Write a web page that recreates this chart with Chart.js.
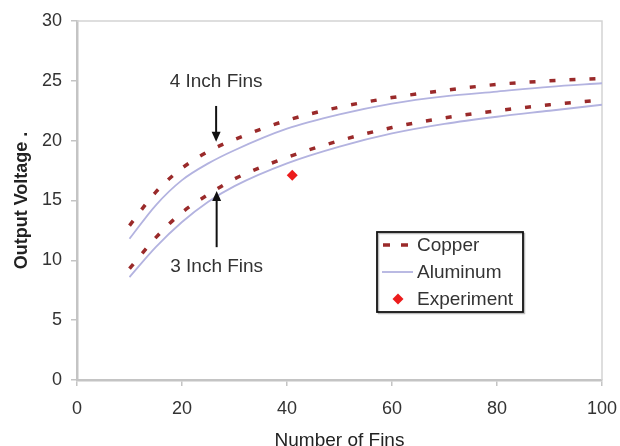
<!DOCTYPE html>
<html>
<head>
<meta charset="utf-8">
<script src="https://cdn.jsdelivr.net/npm/chart.js@4.4.0/dist/chart.umd.min.js"></script>
<style>
  html, body { margin: 0; padding: 0; background: #fff; }
  #wrap { width: 620px; height: 446px; }
</style>
</head>
<body>
<div id="wrap"><canvas id="finChart" width="620" height="446"></canvas></div>
<script>
const fins = [10, 15, 20, 25, 30, 40, 50, 60, 70, 80, 90, 100];
const copper4 = [12.9, 15.7, 17.7, 19.1, 20.1, 21.7, 22.8, 23.6, 24.2, 24.7, 25.0, 25.2];
const aluminum4 = [11.8, 14.6, 16.7, 18.1, 19.2, 21.0, 22.2, 23.1, 23.7, 24.1, 24.5, 24.8];
const copper3 = [9.3, 11.9, 14.0, 15.5, 16.8, 18.6, 20.0, 21.1, 21.9, 22.5, 23.0, 23.4];
const aluminum3 = [8.6, 11.1, 13.2, 14.9, 16.2, 18.1, 19.5, 20.6, 21.4, 22.0, 22.5, 23.0];
const experimentFins = [41];
const experimentVolts = [17.1];
const xTicks = [0, 20, 40, 60, 80, 100];
const yTicks = [0, 5, 10, 15, 20, 25, 30];

const FONT = "'Liberation Sans', Arial, sans-serif";
const COPPER = "#9a2a2a";
const ALU = "#b3b3e0";
const EXP = "#ec1c1c";

const pts = (xs, ys) => xs.map((x, i) => ({ x, y: ys[i] }));

// light frame on top and right of the plot
const frame = {
  id: "frame",
  beforeDatasetsDraw(chart) {
    const { ctx, chartArea: a } = chart;
    ctx.save();
    ctx.strokeStyle = "#d4d4d4";
    ctx.lineWidth = 1.5;
    ctx.beginPath();
    ctx.moveTo(a.left, a.top);
    ctx.lineTo(a.right, a.top);
    ctx.lineTo(a.right, a.bottom);
    ctx.stroke();
    ctx.restore();
  }
};

// "4 Inch Fins" / "3 Inch Fins" labels with arrows
const notes = [
  { text: "4 Inch Fins", x: 26.5, textY: 24.9, from: 22.9, to: 19.9 },
  { text: "3 Inch Fins", x: 26.6, textY: 9.5, from: 11.1, to: 15.8 }
];
const arrows = {
  id: "arrows",
  afterDatasetsDraw(chart) {
    const { ctx, scales: { x, y } } = chart;
    ctx.save();
    ctx.font = `19px ${FONT}`;
    ctx.textAlign = "center";
    ctx.textBaseline = "middle";
    for (const n of notes) {
      const px = x.getPixelForValue(n.x);
      ctx.fillStyle = "#333";
      ctx.fillText(n.text, px, y.getPixelForValue(n.textY));
      const y0 = y.getPixelForValue(n.from);
      const y1 = y.getPixelForValue(n.to);
      const dir = Math.sign(y1 - y0);
      ctx.strokeStyle = "#111";
      ctx.fillStyle = "#111";
      ctx.lineWidth = 2;
      ctx.beginPath();
      ctx.moveTo(px, y0);
      ctx.lineTo(px, y1 - dir * 8);
      ctx.stroke();
      ctx.beginPath();
      ctx.moveTo(px, y1);
      ctx.lineTo(px - 4.5, y1 - dir * 10);
      ctx.lineTo(px + 4.5, y1 - dir * 10);
      ctx.closePath();
      ctx.fill();
    }
    ctx.restore();
  }
};

// boxed legend inside the plot
const boxLegend = {
  id: "boxLegend",
  afterDraw(chart) {
    const { ctx } = chart;
    const left = 377, top = 232, w = 146, h = 80;
    ctx.save();
    ctx.fillStyle = "#fff";
    ctx.fillRect(left, top, w, h);
    ctx.strokeStyle = "#bbb";
    ctx.lineWidth = 1.5;
    ctx.strokeRect(left + 1.5, top + 1.5, w, h);
    ctx.strokeStyle = "#111";
    ctx.lineWidth = 1.8;
    ctx.strokeRect(left, top, w, h);

    const rows = [
      { label: "Copper", y: 245, kind: "dash" },
      { label: "Aluminum", y: 272, kind: "line" },
      { label: "Experiment", y: 299, kind: "point" }
    ];
    for (const r of rows) {
      if (r.kind === "dash") {
        ctx.strokeStyle = COPPER;
        ctx.lineWidth = 3.5;
        ctx.setLineDash([7, 11]);
        ctx.beginPath();
        ctx.moveTo(383, r.y);
        ctx.lineTo(413, r.y);
        ctx.stroke();
        ctx.setLineDash([]);
      } else if (r.kind === "line") {
        ctx.strokeStyle = ALU;
        ctx.lineWidth = 1.8;
        ctx.beginPath();
        ctx.moveTo(382, r.y);
        ctx.lineTo(413, r.y);
        ctx.stroke();
      } else {
        ctx.fillStyle = EXP;
        ctx.beginPath();
        ctx.moveTo(398, r.y - 5.5);
        ctx.lineTo(403.5, r.y);
        ctx.lineTo(398, r.y + 5.5);
        ctx.lineTo(392.5, r.y);
        ctx.closePath();
        ctx.fill();
      }
      ctx.font = `19px ${FONT}`;
      ctx.fillStyle = "#333";
      ctx.textAlign = "left";
      ctx.textBaseline = "middle";
      ctx.fillText(r.label, 417, r.y + 1);
    }
    ctx.restore();
  }
};

const lineSet = (label, ys, color, width, dash) => ({
  label,
  data: pts(fins, ys),
  borderColor: color,
  borderWidth: width,
  borderDash: dash,
  pointRadius: 0,
  fill: false,
  cubicInterpolationMode: "monotone"
});

new Chart(document.getElementById("finChart"), {
  type: "line",
  data: {
    datasets: [
      lineSet("Aluminum 4 in", aluminum4, ALU, 1.8, []),
      lineSet("Aluminum 3 in", aluminum3, ALU, 1.8, []),
      lineSet("Copper 4 in", copper4, COPPER, 3.5, [6, 14]),
      lineSet("Copper 3 in", copper3, COPPER, 3.5, [6, 14]),
      {
        label: "Experiment",
        type: "scatter",
        data: pts(experimentFins, experimentVolts),
        pointStyle: "rectRot",
        pointRadius: 5.5,
        backgroundColor: EXP,
        borderColor: EXP,
        borderWidth: 0
      }
    ]
  },
  options: {
    responsive: false,
    animation: false,
    layout: { padding: { left: 0, top: 21, right: 18, bottom: 0 } },
    plugins: { legend: { display: false }, tooltip: { enabled: false } },
    scales: {
      x: {
        type: "linear",
        min: 0,
        max: 100,
        afterFit: (s) => {
          s.height = 66;
          s.paddingLeft = 0;
          s.paddingRight = 0;
        },
        afterBuildTicks: (s) => { s.ticks = xTicks.map((v) => ({ value: v })); },
        grid: { drawOnChartArea: false, tickLength: 6, color: "#c4c4c4", lineWidth: 1.5 },
        border: { color: "#c4c4c4", width: 2.5 },
        ticks: { padding: 12, color: "#333", font: { family: FONT, size: 18 } },
        title: {
          display: true,
          text: "Number of Fins",
          color: "#222",
          padding: { top: 0, bottom: -6 },
          font: { family: FONT, size: 19 }
        }
      },
      y: {
        min: 0,
        max: 30,
        afterFit: (s) => { s.width = 77; },
        afterBuildTicks: (s) => { s.ticks = yTicks.map((v) => ({ value: v })); },
        grid: { drawOnChartArea: false, tickLength: 6, color: "#c4c4c4", lineWidth: 1.5 },
        border: { color: "#c4c4c4", width: 2.5 },
        ticks: { padding: 9, color: "#333", font: { family: FONT, size: 18 } },
        title: {
          display: true,
          text: "Output Voltage .",
          color: "#222",
          padding: { top: 11, bottom: 0 },
          font: { family: FONT, size: 18, weight: "bold" }
        }
      }
    }
  },
  plugins: [frame, arrows, boxLegend]
});
</script>
</body>
</html>
